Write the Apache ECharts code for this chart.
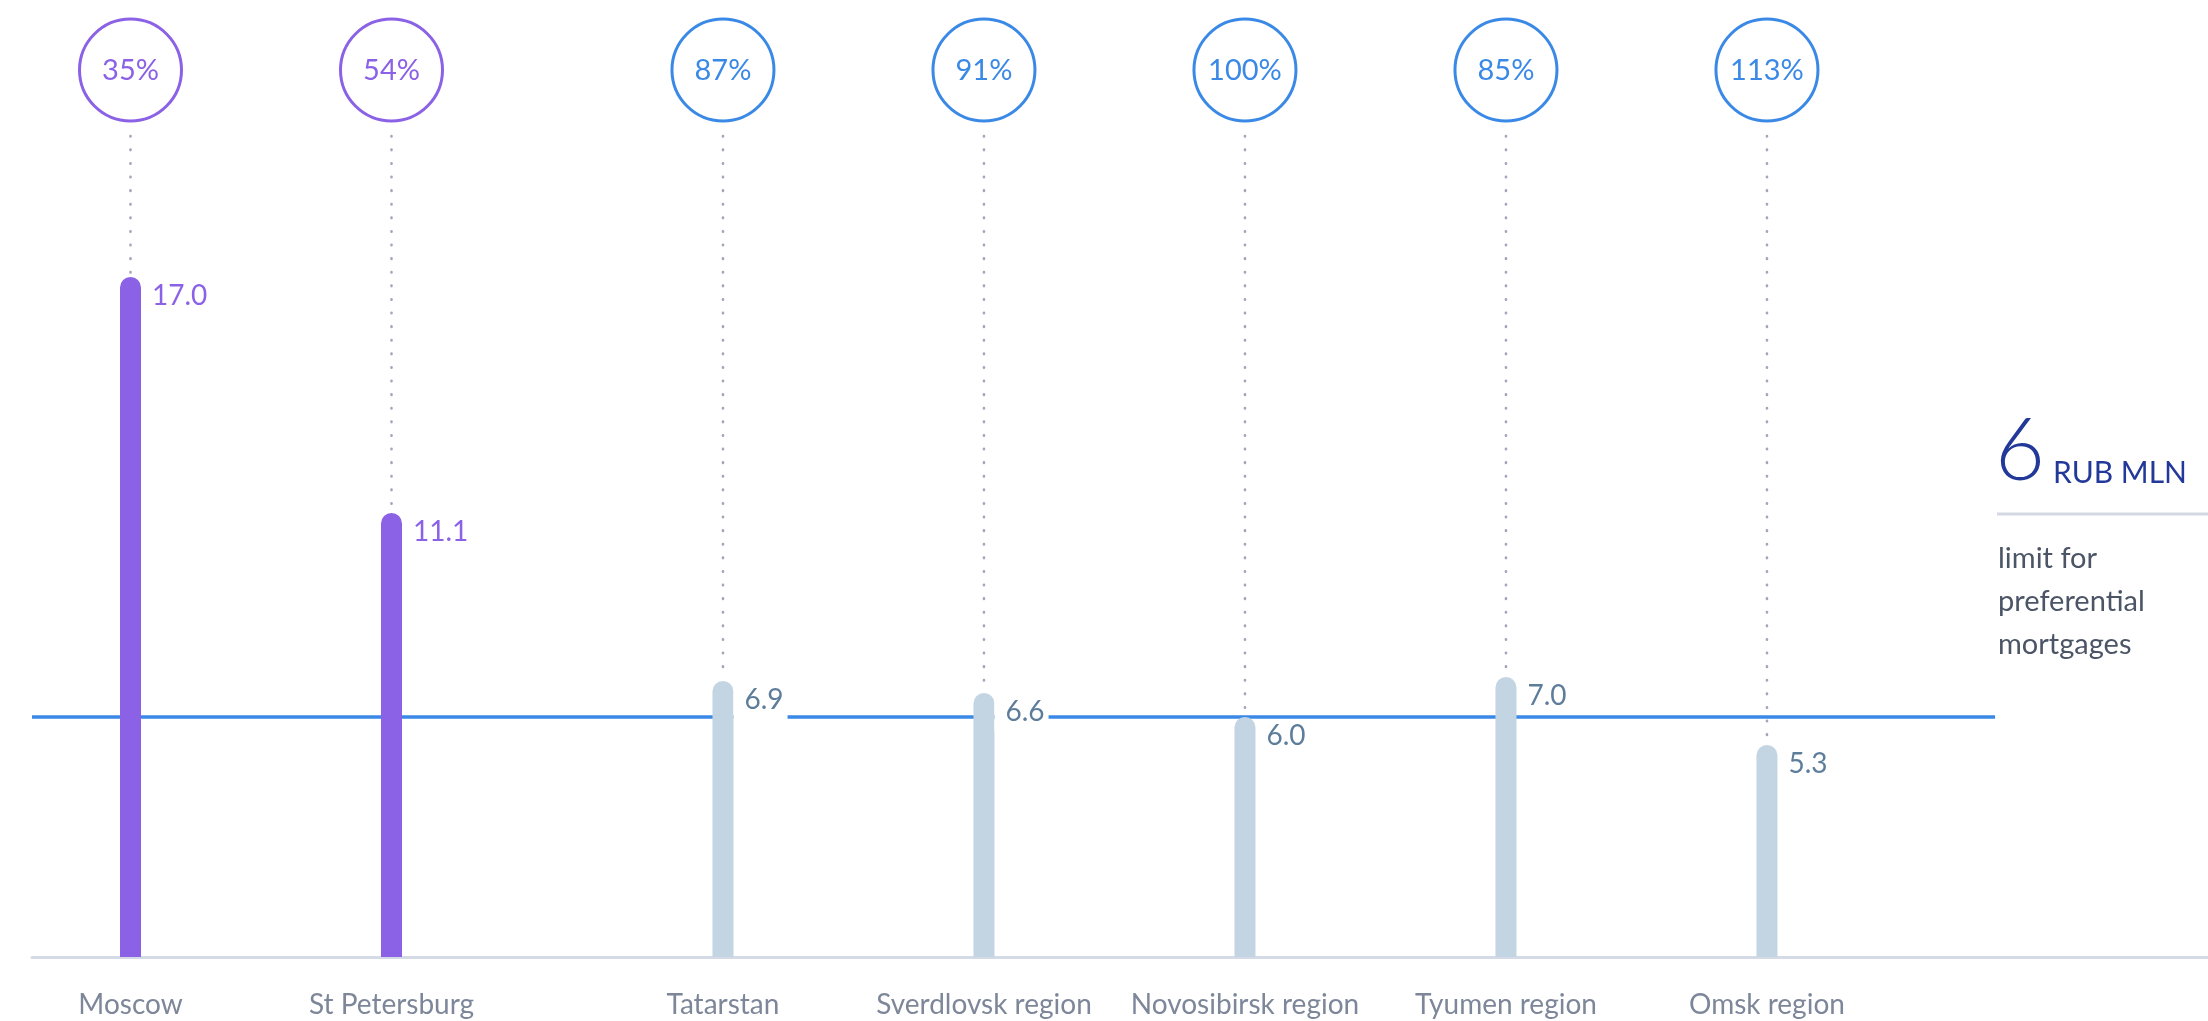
<!DOCTYPE html>
<html>
<head>
<meta charset="utf-8">
<title>Housing prices and the preferential mortgage limit</title>
<script src="https://cdn.jsdelivr.net/npm/echarts@6/dist/echarts.min.js"></script>
<style>
  html, body { margin: 0; padding: 0; background: #ffffff; }
  #chart { width: 2208px; height: 1021px; }
</style>
</head>
<body>
<div id="chart"></div>
<script>
// Average price of a flat, RUB mln, by region
const categories = ['Moscow', 'St Petersburg', 'Tatarstan', 'Sverdlovsk region', 'Novosibirsk region', 'Tyumen region', 'Omsk region'];
const prices = [17.0, 11.1, 6.9, 6.6, 6.0, 7.0, 5.3];
// Share of flats priced within the limit, %
const shares = [35, 54, 87, 91, 100, 85, 113];
// The two federal cities are drawn in the accent colour
const highlighted = [true, true, false, false, false, false, false];
// Preferential mortgage limit, RUB mln
const LIMIT = 6;
const limitUnit = 'RUB MLN';
const limitCaption = ['limit for', 'preferential', 'mortgages'];

// Column slots on the x scale: a wider gap separates the federal cities from the regions
const columnX = [0, 1, 2.27, 3.27, 4.27, 5.27, 6.27];

const FONT = 'Lato, "Noto Sans", sans-serif';
const PURPLE = '#8b61e6';
const BLUE = '#3a89e6';
const PALE_BAR = '#c3d5e3';
const PALE_TEXT = '#5e7d9b';

const chart = echarts.init(document.getElementById('chart'), null, { renderer: 'canvas' });

// A value label sitting across the limit line gets a white plate so the line breaks around it
const labelCrossesLimit = (v) => v > LIMIT && v - LIMIT < 0.95;

const barData = prices.map((v, i) => ({
  value: [columnX[i], v],
  itemStyle: { color: highlighted[i] ? PURPLE : PALE_BAR },
  label: {
    color: highlighted[i] ? PURPLE : PALE_TEXT,
    backgroundColor: labelCrossesLimit(v) ? '#ffffff' : 'transparent',
    padding: labelCrossesLimit(v) ? [0, 4, 5, 11] : [0, 4, 0, 11]
  }
}));

const markerData = prices.map((v, i) => [columnX[i], v, shares[i], i]);

chart.setOption({
  animation: false,
  backgroundColor: '#ffffff',
  grid: { left: 32, right: 0, top: 77, bottom: 64, containLabel: false },
  xAxis: {
    type: 'value',
    min: -0.3774,
    max: 7.9598,
    axisLine: { show: true, lineStyle: { color: '#d5dbe6', width: 3 } },
    axisTick: { show: false },
    splitLine: { show: false },
    axisLabel: {
      customValues: columnX,
      formatter: (val) => {
        const i = columnX.findIndex(p => Math.abs(p - val) < 1e-6);
        return i >= 0 ? categories[i] : '';
      },
      color: '#7d8799',
      fontFamily: FONT,
      fontSize: 28,
      margin: 34
    }
  },
  yAxis: {
    type: 'value',
    min: 0,
    max: 22,
    show: false,
    splitLine: { show: false }
  },
  series: [
    {
      // share circles and dotted leaders above each column
      type: 'custom',
      z: 1,
      silent: true,
      data: markerData,
      renderItem: (params, api) => {
        const i = api.value(3);
        const top = api.coord([api.value(0), api.value(1)]);
        const x = top[0];
        const color = highlighted[i] ? PURPLE : BLUE;
        return {
          type: 'group',
          children: [
            {
              type: 'line',
              shape: { x1: x, y1: 136, x2: x, y2: top[1] - 4 },
              style: { stroke: '#a3a5bb', lineWidth: 2.6, lineDash: [0.5, 13.1], lineCap: 'round' }
            },
            {
              type: 'circle',
              shape: { cx: x, cy: 70, r: 51 },
              style: { fill: '#ffffff', stroke: color, lineWidth: 3 }
            },
            {
              type: 'text',
              x: x,
              y: 71,
              style: {
                text: api.value(2) + '%',
                fill: color,
                fontFamily: FONT,
                fontSize: 29,
                align: 'center',
                verticalAlign: 'middle'
              }
            }
          ]
        };
      },
      markLine: {
        silent: true,
        z: 1,
        symbol: ['none', 'none'],
        label: { show: false },
        lineStyle: { color: BLUE, width: 3.5, type: 'solid', opacity: 1 },
        emphasis: { disabled: true },
        data: [[{ coord: [-0.3774, LIMIT] }, { coord: [7.144, LIMIT] }]]
      }
    },
    {
      type: 'bar',
      z: 2,
      barWidth: 21,
      silent: true,
      itemStyle: { borderRadius: [10.5, 10.5, 0, 0] },
      label: {
        show: true,
        position: ['100%', 0],
        offset: [0, 19],
        align: 'left',
        verticalAlign: 'middle',
        fontFamily: FONT,
        fontSize: 28,
        lineHeight: 34,
        formatter: (p) => p.value[1].toFixed(1)
      },
      data: barData
    }
  ],
  graphic: [
    {
      type: 'text',
      x: 1995,
      y: 452,
      style: {
        text: String(LIMIT),
        fill: '#23399a',
        fontFamily: FONT,
        fontWeight: 300,
        fontSize: 86,
        verticalAlign: 'middle'
      }
    },
    {
      type: 'text',
      x: 2053,
      y: 473,
      style: {
        text: limitUnit,
        fill: '#23399a',
        fontFamily: FONT,
        fontSize: 30,
        verticalAlign: 'middle'
      }
    },
    {
      type: 'line',
      shape: { x1: 1997, y1: 514, x2: 2208, y2: 514 },
      style: { stroke: '#d3d8e2', lineWidth: 3 }
    },
    {
      type: 'text',
      x: 1998,
      y: 537,
      style: {
        text: limitCaption.join('\n'),
        fill: '#4c5566',
        fontFamily: FONT,
        fontSize: 29,
        lineHeight: 43,
        verticalAlign: 'top'
      }
    }
  ]
});
</script>
</body>
</html>
